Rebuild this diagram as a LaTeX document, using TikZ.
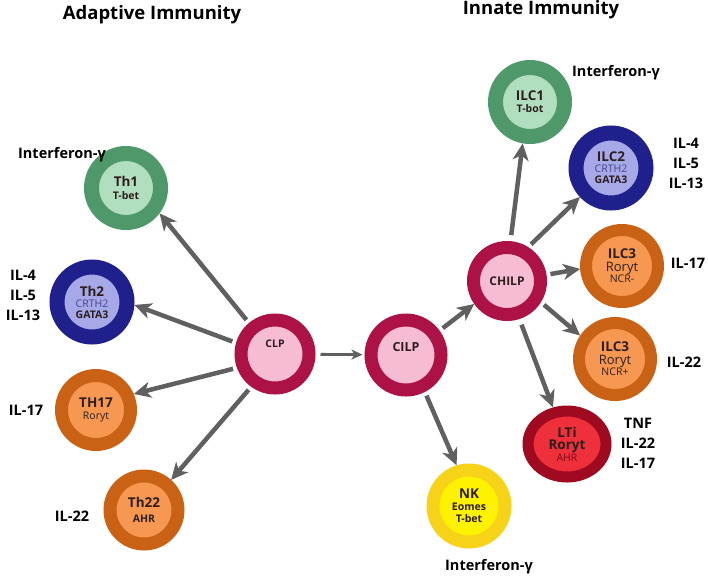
\documentclass[tikz,border=0pt]{standalone}
\usepackage{fontspec}
\setmainfont{Open Sans}
\usetikzlibrary{arrows.meta,shapes.geometric}

\definecolor{greenring}{RGB}{78,152,106}
\definecolor{greencore}{RGB}{178,222,192}
\definecolor{bluering}{RGB}{32,32,140}
\definecolor{bluecore}{RGB}{166,168,232}
\definecolor{orangering}{RGB}{202,98,22}
\definecolor{orangecore}{RGB}{246,152,82}
\definecolor{pinkring}{RGB}{172,18,70}
\definecolor{pinkcore}{RGB}{246,188,212}
\definecolor{redring}{RGB}{160,10,32}
\definecolor{redcore}{RGB}{238,48,58}
\definecolor{yellowring}{RGB}{246,210,24}
\definecolor{yellowcore}{RGB}{255,242,0}
\definecolor{arrowgray}{RGB}{96,96,96}
\definecolor{celltext}{RGB}{45,30,30}
\definecolor{crthtext}{RGB}{70,70,140}

\newcommand\cname[1]{{\fontsize{13.5}{14}\selectfont\bfseries #1}}
\newcommand\cmark[1]{{\fontsize{10.5}{11}\selectfont #1}}
\newcommand\cbold[1]{{\fontsize{10.5}{11}\selectfont\bfseries #1}}

\tikzset{
  cell/.style 2 args={circle, draw=#1, fill=#2, line width=13pt,
    minimum size=71pt, inner sep=0pt, align=center, text=celltext},
  arr/.style={draw=arrowgray, line width=4.5pt,
    -{Stealth[length=17pt,width=16pt,inset=5pt]}, shorten <=4pt},
  cyto/.style={font=\fontsize{14.5}{20}\selectfont\bfseries, align=center},
  heading/.style={font=\fontsize{18.5}{20}\selectfont\bfseries},
}

\begin{document}
\begin{tikzpicture}[x=1pt,y=-1pt]
  \useasboundingbox (0,0) rectangle (708,576);

  % titles
  \node[heading] (adaptive) at (152,15) {Adaptive Immunity};
  \node[heading] (innate) at (541,10) {Innate Immunity};

  % progenitors
  \node[cell={pinkring}{pinkcore}, minimum size=68pt,
        label={[yshift=10pt, text=celltext]center:\cbold{CLP}}] (clp) at (275,354) {};
  \node[cell={pinkring}{pinkcore}, minimum size=70pt] (cilp) at (406,355)
    {{\fontsize{12.5}{13}\selectfont\bfseries CILP}\\[4pt]};
  \node[cell={pinkring}{pinkcore}, minimum size=67pt] (chilp) at (507,281)
    {{\fontsize{12}{13}\selectfont\bfseries CHILP}};

  % adaptive side
  \node[cell={greenring}{greencore}, line width=15pt, minimum size=69pt] (th1) at (126,188)
    {\cname{Th1}\\[1pt]\cbold{T-bet}};
  \node[cell={bluering}{bluecore}, line width=15pt, minimum size=70pt] (th2) at (92,302)
    {\cname{Th2}\\[-1pt]\textcolor{crthtext}{\cmark{CRTH2}}\\[-1pt]\cbold{GATA3}};
  \node[cell={orangering}{orangecore}, minimum size=69pt] (th17) at (96,410)
    {\cname{TH17}\\[0pt]\cmark{Roryt}};
  \node[cell={orangering}{orangecore}, minimum size=68pt] (th22) at (144,510)
    {\cname{Th22}\\[3pt]\cbold{AHR}};

  % innate side
  \node[cell={greenring}{greencore}, line width=15pt, minimum size=69pt] (ilc1) at (530,102)
    {\cname{ILC1}\\[0pt]\cbold{T-bot}};
  \node[cell={bluering}{bluecore}, line width=15pt, minimum size=70pt] (ilc2) at (611,168)
    {\cname{ILC2}\\[-1pt]\textcolor{crthtext}{\cmark{CRTH2}}\\[-1pt]\cbold{GATA3}};
  \node[cell={orangering}{orangecore}, line width=12pt, minimum size=72pt] (ilc3a) at (622,266)
    {\cname{ILC3}\\[1pt]{\fontsize{13}{14}\selectfont Roryt}\\[-1pt]\cmark{NCR-}};
  \node[cell={orangering}{orangecore}, line width=12pt, minimum size=72pt] (ilc3b) at (615,359)
    {\cname{ILC3}\\[1pt]{\fontsize{13}{14}\selectfont Roryt}\\[-1pt]\cmark{NCR+}};
  \node[ellipse, draw=redring, fill=redcore, line width=11pt, minimum width=78pt,
        minimum height=66pt, inner sep=0pt, align=center, text=celltext] (lti) at (567,444)
    {\cname{LTi}\\[0pt]{\fontsize{13.5}{14}\selectfont\bfseries Roryt}\\[0pt]\textcolor{redring!80!black}{\cmark{AHR}}};
  \node[cell={yellowring}{yellowcore}, minimum size=72pt] (nk) at (469,506)
    {\cname{NK}\\[0pt]\cbold{Eomes}\\[0pt]\cbold{T-bet}};

  % cytokines
  \node[cyto] (ifn1) at (62,155) {Interferon-γ};
  \node[cyto] (il2) at (23,295) {IL-4\\IL-5\\IL-13};
  \node[cyto] (il17) at (26,410) {IL-17};
  \node[cyto] (il22) at (72,516) {IL-22};
  \node[cyto] (ifn2) at (616,73) {Interferon-γ};
  \node[cyto] (ilc2il) at (686,163) {IL-4\\IL-5\\IL-13};
  \node[cyto] (ilc3il17) at (688,263) {IL-17};
  \node[cyto] (ilc3il22) at (684,362) {IL-22};
  \node[cyto] (ltiil) at (638,443) {TNF\\IL-22\\IL-17};
  \node[cyto] (ifn3) at (489,567) {Interferon-γ};

  % connectors
  \draw[arr] (clp.130) -- (th1.-37);
  \draw[arr] (clp.164) -- (th2.-4);
  \draw[arr] (clp.200) -- (th17.23);
  \draw[arr] (clp.234) -- (th22.48);
  \draw[arr, line width=2.8pt, -{Stealth[length=11pt,width=10pt,inset=3pt]},
        shorten <=5pt, shorten >=2pt] (clp) -- (cilp);
  \draw[arr] (cilp.36) -- (chilp.215);
  \draw[arr] (cilp.-63) -- (nk.107);
  \draw[arr, shorten <=6pt] (chilp.85) -- (ilc1.260);
  \draw[arr] (chilp.58) -- (ilc2.223);
  \draw[arr] (chilp.9) -- (ilc3a.184);
  \draw[arr] (chilp.-32) -- (ilc3b.146);
  \draw[arr, shorten <=6pt] (chilp.-72) -- (lti.111);
\end{tikzpicture}
\end{document}
